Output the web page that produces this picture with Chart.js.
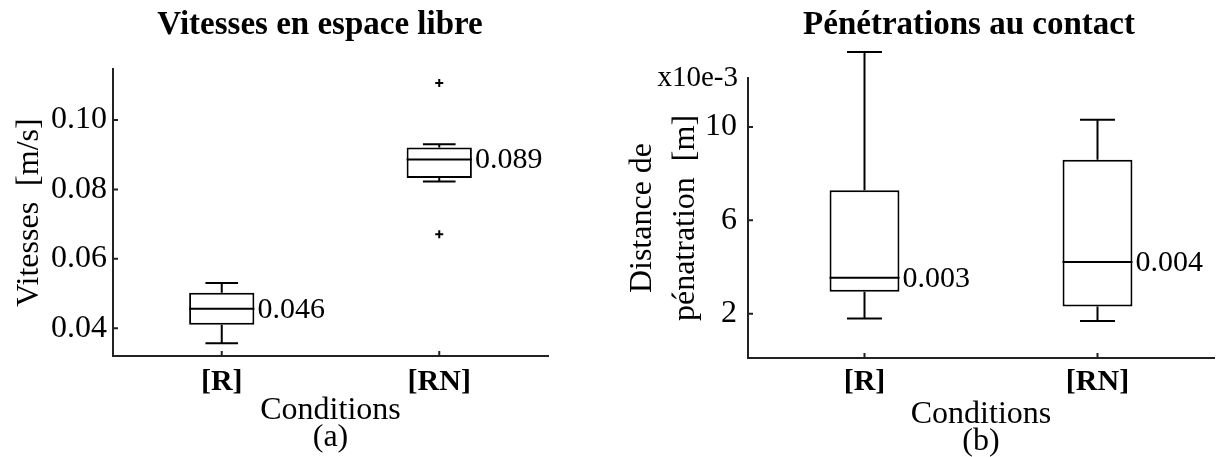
<!DOCTYPE html>
<html>
<head>
<meta charset="utf-8">
<script src="https://cdn.jsdelivr.net/npm/chart.js@4.4.1/dist/chart.umd.min.js"></script>
<style>
body{margin:0;background:#fff;overflow:hidden;width:1217px;height:457px;position:relative}
.panel{position:absolute;top:0;height:457px}
#pa{left:0;width:600px}
#pb{left:600px;width:617px}
</style>
</head>
<body>
<div class="panel" id="pa"><canvas id="chartA"></canvas></div>
<div class="panel" id="pb"><canvas id="chartB"></canvas></div>
<script>
const categories = ['[R]', '[RN]'];

// (a) vitesses en espace libre [m/s]
const minA = [0.0357, 0.0823];
const q1A = [0.0410, 0.0833];
const medA = [0.0456, 0.0886];
const q3A = [0.0502, 0.0921];
const maxA = [0.0530, 0.0930];
const medLabelsA = ['0.046', '0.089'];
const outlierCatsA = ['[RN]', '[RN]'];
const outlierValsA = [0.1107, 0.0671];
const ticksA = [0.04, 0.06, 0.08, 0.10];

// (b) penetrations au contact [x10e-3 m]
const minB = [1.79, 1.69];
const q1B = [2.94, 2.31];
const medB = [3.54, 4.21];
const q3B = [7.29, 8.60];
const maxB = [13.21, 10.31];
const medLabelsB = ['0.003', '0.004'];
const ticksB = [2, 6, 10];

Chart.defaults.font.family = '"Liberation Serif", serif';
Chart.defaults.color = '#000';

// whiskers, medians, labels, inward ticks, titles
const boxExtras = {
  id: 'boxExtras',
  afterDatasetsDraw(chart, args, o) {
    const {ctx, scales: {x, y}} = chart;
    const bars = chart.getDatasetMeta(0).data;
    ctx.save();
    ctx.strokeStyle = '#000';
    ctx.lineWidth = 2;
    ctx.fillStyle = '#000';
    ctx.font = '30px "Liberation Serif"';
    ctx.textBaseline = 'middle';
    ctx.textAlign = 'left';
    bars.forEach((bar, i) => {
      const cx = x.getPixelForValue(i);
      const w = bar.width;
      const cap = w / 4;
      const top = y.getPixelForValue(o.q3[i]);
      const bot = y.getPixelForValue(o.q1[i]);
      const hi = y.getPixelForValue(o.max[i]);
      const lo = y.getPixelForValue(o.min[i]);
      const med = y.getPixelForValue(o.med[i]);
      ctx.beginPath();
      ctx.moveTo(cx, top); ctx.lineTo(cx, hi);
      ctx.moveTo(cx - cap, hi); ctx.lineTo(cx + cap, hi);
      ctx.moveTo(cx, bot); ctx.lineTo(cx, lo);
      ctx.moveTo(cx - cap, lo); ctx.lineTo(cx + cap, lo);
      ctx.moveTo(cx - w / 2, med); ctx.lineTo(cx + w / 2, med);
      ctx.stroke();
      ctx.fillText(o.labels[i], cx + w / 2 + 3, med + 1);
    });
    ctx.restore();
  },
  afterDraw(chart, args, o) {
    const {ctx, chartArea: a, scales: {x, y}} = chart;
    ctx.save();
    ctx.strokeStyle = '#222';
    ctx.lineWidth = 2;
    ctx.beginPath();
    y.ticks.forEach(t => {
      const py = y.getPixelForValue(t.value);
      ctx.moveTo(a.left, py); ctx.lineTo(a.left + 5, py);
    });
    categories.forEach((c, i) => {
      const px = x.getPixelForValue(i);
      ctx.moveTo(px, a.bottom); ctx.lineTo(px, a.bottom - 5);
    });
    ctx.stroke();
    ctx.fillStyle = '#000';
    ctx.textAlign = 'center';
    ctx.textBaseline = 'alphabetic';
    ctx.font = 'bold 33px "Liberation Serif"';
    ctx.fillText(o.title, o.titleX, 34);
    if (o.exponent) {
      ctx.font = '29px "Liberation Serif"';
      ctx.textAlign = 'right';
      ctx.fillText(o.exponent, a.left - 10, 86);
    }
    ctx.restore();
  }
};

function makeChart(id, c) {
  new Chart(document.getElementById(id), {
    type: 'bar',
    data: {
      labels: categories,
      datasets: [{
        data: c.q1.map((v, i) => [v, c.q3[i]]),
        backgroundColor: '#fff',
        borderColor: '#000',
        borderWidth: 2,
        borderSkipped: false,
        barPercentage: 0.3,
        categoryPercentage: 1
      }, {
        type: 'line',
        data: c.outCats.map((k, i) => ({x: k, y: c.outVals[i]})),
        showLine: false,
        pointStyle: 'cross',
        pointRadius: 4,
        borderWidth: 2,
        borderColor: '#000'
      }]
    },
    options: {
      responsive: true,
      maintainAspectRatio: false,
      animation: false,
      layout: {padding: c.pad},
      plugins: {
        legend: {display: false},
        tooltip: {enabled: false},
        boxExtras: {q1: c.q1, q3: c.q3, min: c.min, max: c.max, med: c.med,
          labels: c.labels, title: c.title, titleX: c.titleX, exponent: c.exponent}
      },
      scales: {
        x: {
          offset: true,
          grid: {display: false, drawTicks: false},
          border: {display: true, color: '#222', width: 2},
          ticks: {font: {size: 30, weight: 'bold'}, padding: c.xPad},
          title: {display: true, text: ['Conditions', c.caption], font: {size: 32, lineHeight: 0.84},
            padding: {top: 0, bottom: c.capPad}},
          afterFit: s => { s.height = c.xH; }
        },
        y: {
          min: c.yMin,
          max: c.yMax,
          grid: {display: false, drawTicks: false},
          border: {display: true, color: '#222', width: 2},
          afterBuildTicks: s => { s.ticks = c.ticks.map(v => ({value: v})); },
          ticks: {font: {size: 32}, padding: c.yPad, callback: c.fmt},
          title: {display: true, text: c.yTitle, font: {size: 32, lineHeight: c.yLH},
            padding: {top: c.yTitlePad, bottom: 0}},
          afterFit: s => { s.width = c.yW; }
        }
      }
    },
    plugins: [boxExtras]
  });
}

makeChart('chartA', {
  q1: q1A, q3: q3A, min: minA, max: maxA, med: medA, labels: medLabelsA,
  outCats: outlierCatsA, outVals: outlierValsA, ticks: ticksA,
  yMin: 0.032, yMax: 0.1147, fmt: v => v.toFixed(2),
  title: 'Vitesses en espace libre', titleX: 320, caption: '(a)',
  yTitle: 'Vitesses  [m/s]', yLH: 1.2, yTitlePad: 10,
  pad: {top: 69, right: 52, bottom: 0, left: 0},
  yW: 113, xH: 101, xPad: 8, yPad: 6, capPad: 6
});

makeChart('chartB', {
  q1: q1B, q3: q3B, min: minB, max: maxB, med: medB, labels: medLabelsB,
  outCats: [], outVals: [], ticks: ticksB,
  yMin: 0.1, yMax: 12.1, fmt: v => String(v),
  title: 'Pénétrations au contact', titleX: 369, caption: '(b)', exponent: 'x10e-3',
  yTitle: ['Distance de', 'pénatration  [m]'], yLH: 1.34, yTitlePad: 21,
  pad: {top: 78, right: 3, bottom: 0, left: 0},
  yW: 148, xH: 99, xPad: 6, yPad: 11, capPad: 2
});
</script>
</body>
</html>
